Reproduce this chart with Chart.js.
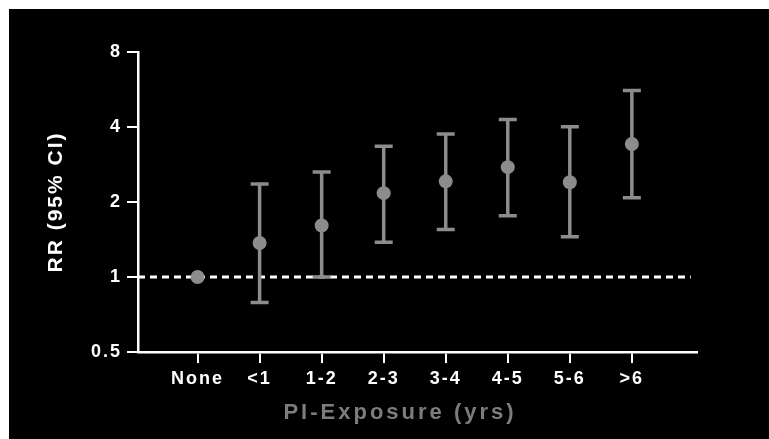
<!DOCTYPE html>
<html>
<head>
<meta charset="utf-8">
<script src="https://cdn.jsdelivr.net/npm/chart.js@4/dist/chart.umd.min.js"></script>
<style>
	body { margin: 0; background: #fff; }
	#wrap { position: absolute; left: 9px; top: 9px; width: 760px; height: 430px; background: #000; }
</style>
</head>
<body>
<div id="wrap"><canvas id="rrChart" width="760" height="430"></canvas></div>
<script>
// values
const categories = ['None', '<1', '1-2', '2-3', '3-4', '4-5', '5-6', '>6'];
const rr = [1.0, 1.37, 1.61, 2.17, 2.42, 2.76, 2.40, 3.42];
const lower = [null, 0.79, 1.0, 1.38, 1.55, 1.76, 1.45, 2.08];
const upper = [null, 2.36, 2.64, 3.35, 3.75, 4.29, 4.01, 5.6];
const yTicks = [0.5, 1, 2, 4, 8];
const refValue = 1;

const xMin = -0.96, xMax = 8.05;
const grey = '#8c8c8c';
const fontFamily = '"Liberation Sans", Arial, sans-serif';

// error bars, drawn after the dashed line but under the points
const errorBars = {
	id: 'errorBars',
	afterDatasetDraw(chart, args) {
		if (args.index !== 1) return;
		const ctx = chart.ctx;
		const xs = chart.scales.x, ys = chart.scales.y;
		ctx.save();
		ctx.strokeStyle = grey;
		ctx.lineWidth = 3.5;
		categories.forEach(function (c, i) {
			if (lower[i] == null) return;
			const px = xs.getPixelForValue(i);
			const y1 = ys.getPixelForValue(lower[i]);
			const y2 = ys.getPixelForValue(upper[i]);
			ctx.beginPath();
			ctx.moveTo(px, y1); ctx.lineTo(px, y2);
			ctx.moveTo(px - 9, y1); ctx.lineTo(px + 9, y1);
			ctx.moveTo(px - 9, y2); ctx.lineTo(px + 9, y2);
			ctx.stroke();
		});
		ctx.restore();
	}
};

// wide letter spacing for all text, plus the x title
const textStyle = {
	id: 'textStyle',
	beforeDraw(chart) {
		chart.ctx.letterSpacing = '2px';
	},
	afterDraw(chart) {
		const ctx = chart.ctx;
		ctx.save();
		ctx.letterSpacing = '3px';
		ctx.font = 'bold 22px ' + fontFamily;
		ctx.fillStyle = '#7d7d7d';
		ctx.textAlign = 'center';
		ctx.textBaseline = 'middle';
		ctx.fillText('PI-Exposure (yrs)', 391, 404);
		ctx.restore();
	}
};

const tickFont = { family: fontFamily, size: 18, weight: 'bold' };

new Chart(document.getElementById('rrChart'), {
	type: 'scatter',
	data: {
		datasets: [{
			label: 'RR',
			data: categories.map((c, i) => ({ x: i, y: rr[i] })),
			backgroundColor: grey,
			borderWidth: 0,
			pointRadius: 7,
			order: 1
		}, {
			type: 'line',
			label: 'ref',
			data: [{ x: xMin, y: refValue }, { x: 7.95, y: refValue }],
			borderColor: '#ffffff',
			borderWidth: 3,
			borderDash: [7, 5],
			pointRadius: 0,
			order: 2
		}]
	},
	options: {
		responsive: false,
		animation: false,
		layout: { padding: { top: 43, right: 72, left: 0, bottom: 0 } },
		plugins: {
			legend: { display: false },
			tooltip: { enabled: false }
		},
		scales: {
			x: {
				type: 'linear',
				min: xMin,
				max: xMax,
				afterBuildTicks: function (scale) {
					scale.ticks = categories.map((c, i) => ({ value: i }));
				},
				afterFit: function (scale) { scale.height = 87; },
				ticks: {
					autoSkip: false,
					maxRotation: 0,
					color: '#ffffff',
					font: tickFont,
					padding: 5,
					callback: function (v) { return categories[v]; }
				},
				grid: { drawOnChartArea: false, color: '#ffffff', lineWidth: 2, tickLength: 11 },
				border: { color: '#ffffff', width: 2.5 }
			},
			y: {
				type: 'logarithmic',
				min: 0.5,
				max: 8,
				afterBuildTicks: function (scale) {
					scale.ticks = yTicks.map(v => ({ value: v }));
				},
				afterFit: function (scale) { scale.width = 129; },
				ticks: {
					color: '#ffffff',
					font: tickFont,
					padding: 5,
					callback: function (v) { return String(v); }
				},
				grid: { drawOnChartArea: false, color: '#ffffff', lineWidth: 2, tickLength: 11 },
				border: { color: '#ffffff', width: 2.5 },
				title: {
					display: true,
					text: 'RR (95% CI)',
					color: '#ffffff',
					font: { family: fontFamily, size: 21, weight: 'bold' },
					padding: { top: 35 }
				}
			}
		}
	},
	plugins: [errorBars, textStyle]
});
</script>
</body>
</html>
